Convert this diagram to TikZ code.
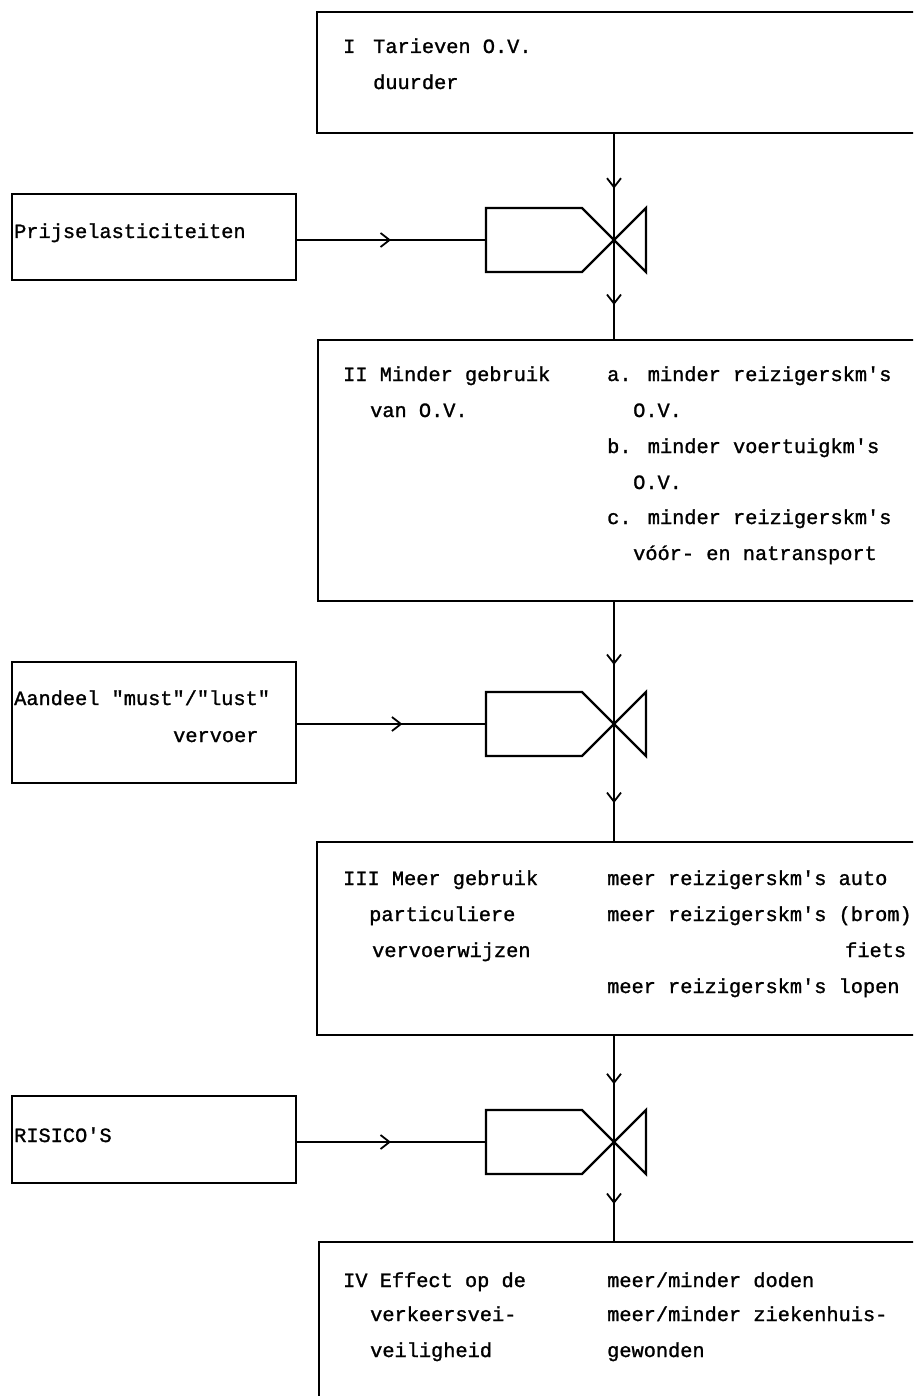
\documentclass[tikz,border=0pt]{standalone}
\usepackage{fontspec}
\newfontfamily\tw[FakeBold=1.2]{Liberation Mono}
\usetikzlibrary{arrows.meta,decorations.markings,calc}
\newcommand\drawvalve[2]{%
  \draw[valve] (#2) -- ++(0,-32) -- ($(#1)+(-32,-32)$) -- (#1) -- ($(#1)+(-32,32)$) -- ($(#2)+(0,32)$) -- cycle;
  \draw[valve] (#1) -- ($(#1)+(32,-32)$) -- ($(#1)+(32,32)$) -- cycle;}
\begin{document}
\begin{tikzpicture}[x=1pt,y=-1pt,
  box/.style={draw, line width=2.2pt, rectangle, inner sep=0pt, outer sep=0pt, anchor=north west},
  txt/.style={anchor=base west, inner sep=0pt, font=\tw\fontsize{20.3}{24}\selectfont},
  flow/.style={line width=1.8pt},
  valve/.style={line width=2.4pt, line join=miter},
  midarrow/.style={postaction={decorate}, decoration={markings, mark=at position #1 with {\arrow{Straight Barb[length=9pt,width=14pt,line width=1.8pt]}}}}
]
\useasboundingbox (0,0) rectangle (913,1396);
\clip (0,0) rectangle (913,1396);
\fill[white] (0,0) rectangle (913,1396);

% main boxes
\node[box, minimum width=608pt, minimum height=121pt] (bI) at (317,12) {};
\node[box, minimum width=607pt, minimum height=261pt] (bII) at (318,340) {};
\node[box, minimum width=608pt, minimum height=193pt] (bIII) at (317,842) {};
\node[box, minimum width=606pt, minimum height=170pt] (bIV) at (319,1242) {};
% side boxes
\node[box, minimum width=284pt, minimum height=86pt] (pr) at (12,194) {};
\node[box, minimum width=284pt, minimum height=121pt] (aa) at (12,662) {};
\node[box, minimum width=284pt, minimum height=87pt] (ri) at (12,1096) {};

% valve coordinates
\coordinate (v1) at (614,240);  \coordinate (v1l) at (486,240);
\coordinate (v2) at (614,724);  \coordinate (v2l) at (486,724);
\coordinate (v3) at (614,1142); \coordinate (v3l) at (486,1142);

% connectors
\draw[flow, midarrow=0.52] (bI.south -| v1) -- (v1);
\draw[flow, midarrow=0.65] (v1) -- (bII.north -| v1);
\draw[flow, midarrow=0.5] (pr.east |- v1) -- (v1l);

\draw[flow, midarrow=0.52] (bII.south -| v2) -- (v2);
\draw[flow, midarrow=0.67] (v2) -- (bIII.north -| v2);
\draw[flow, midarrow=0.56] (aa.east |- v2) -- (v2l);

\draw[flow, midarrow=0.46] (bIII.south -| v3) -- (v3);
\draw[flow, midarrow=0.62] (v3) -- (bIV.north -| v3);
\draw[flow, midarrow=0.5] (ri.east |- v3) -- (v3l);

% valves
\drawvalve{v1}{v1l}
\drawvalve{v2}{v2l}
\drawvalve{v3}{v3l}

% texts box I
\node[txt] (t1a) at (343,53) {I};
\node[txt] (t1b) at (373,53) {Tarieven O.V.};
\node[txt] (t1c) at (373,89) {duurder};
% box II
\node[txt] (t2a) at (343,381) {II Minder gebruik};
\node[txt] (t2b) at (370,417) {van O.V.};
\node[txt] (t2c) at (607,381) {a. minder reizigerskm's};
\node[txt] (t2d) at (633,417) {O.V.};
\node[txt] (t2e) at (607,453) {b. minder voertuigkm's};
\node[txt] (t2f) at (633,489) {O.V.};
\node[txt] (t2g) at (607,524) {c. minder reizigerskm's};
\node[txt] (t2h) at (633,560) {vóór- en natransport};
% box III
\node[txt] (t3a) at (343,885) {III Meer gebruik};
\node[txt] (t3b) at (369,921) {particuliere};
\node[txt] (t3c) at (372,957) {vervoerwijzen};
\node[txt] (t3d) at (607,885) {meer reizigerskm's auto};
\node[txt] (t3e) at (607,921) {meer reizigerskm's (brom)};
\node[txt] (t3f) at (845,957) {fiets};
\node[txt] (t3g) at (607,993) {meer reizigerskm's lopen};
% box IV
\node[txt] (t4a) at (343,1287) {IV Effect op de};
\node[txt] (t4b) at (370,1321) {verkeersvei-};
\node[txt] (t4c) at (370,1357) {veiligheid};
\node[txt] (t4d) at (607,1287) {meer/minder doden};
\node[txt] (t4e) at (607,1321) {meer/minder ziekenhuis-};
\node[txt] (t4f) at (607,1357) {gewonden};
% side texts
\node[txt] (tp) at (14,238) {Prijselasticiteiten};
\node[txt] (ta1) at (14,705) {Aandeel "must"/"lust"};
\node[txt] (ta2) at (173,742) {vervoer};
\node[txt] (tr) at (14,1142) {RISICO'S};
\end{tikzpicture}
\end{document}
